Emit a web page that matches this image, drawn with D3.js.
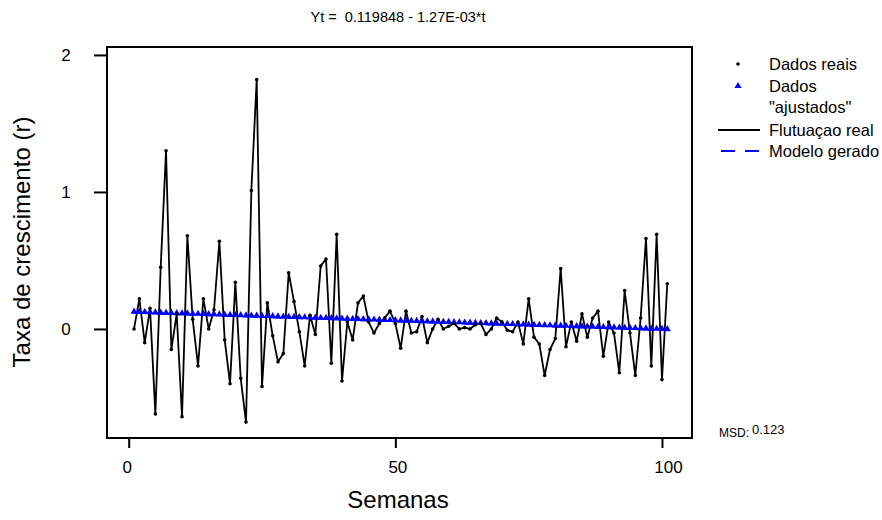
<!DOCTYPE html>
<html lang="pt">
<head>
    <meta charset="UTF-8">
    <title>Tendencia - taxa de crescimento</title>
    <script src="https://d3js.org/d3.v7.min.js"></script>
    <style>
        body{
            margin: 0;
            background-color: white;
        }
        #canvas{
            width: 882px;
            height: 520px;
            display: block;
        }
        text{
            font-family: "Liberation Sans", Arial, sans-serif;
            fill: black;
        }
    </style>
</head>
<body>
    <svg id='canvas' viewBox='0 0 882 520'></svg>
    <script>
        // taxa de crescimento, semana 1 a 101
        let dadosReais = [
            0.00, 0.22, -0.10, 0.15, -0.62, 0.45, 1.30, -0.15, 0.11, -0.64,
            0.68, 0.07, -0.27, 0.22, 0.00, 0.14, 0.64, -0.08, -0.40, 0.34,
            -0.36, -0.68, 1.01, 1.82, -0.42, 0.19, -0.05, -0.24, -0.18, 0.41,
            0.20, -0.02, -0.27, 0.10, -0.04, 0.46, 0.51, -0.25, 0.69, -0.38,
            0.05, -0.08, 0.19, 0.24, 0.05, -0.03, 0.04, 0.08, 0.13, 0.04,
            -0.14, 0.13, -0.03, -0.02, 0.09, -0.10, 0.00, 0.07, 0.00, 0.02,
            0.04, 0.00, 0.01, 0.00, 0.03, 0.04, -0.04, 0.00, 0.08, 0.05,
            -0.01, -0.02, 0.05, -0.11, 0.22, -0.06, -0.11, -0.34, -0.15, -0.07,
            0.44, -0.13, 0.05, -0.09, 0.11, -0.06, 0.08, 0.13, -0.20, 0.05,
            -0.03, -0.32, 0.28, -0.03, -0.34, 0.08, 0.66, -0.27, 0.69, -0.37,
            0.33
        ];
        // valores "ajustados" do modelo (Yt = 0.119848 - 1.27E-03*t)
        let dadosAjustados = [
            0.1186, 0.1173, 0.1160, 0.1148, 0.1135, 0.1122, 0.1110, 0.1097, 0.1084, 0.1071,
            0.1059, 0.1046, 0.1033, 0.1021, 0.1008, 0.0995, 0.0983, 0.0970, 0.0957, 0.0944,
            0.0932, 0.0919, 0.0906, 0.0894, 0.0881, 0.0868, 0.0856, 0.0843, 0.0830, 0.0817,
            0.0805, 0.0792, 0.0779, 0.0767, 0.0754, 0.0741, 0.0729, 0.0716, 0.0703, 0.0690,
            0.0678, 0.0665, 0.0652, 0.0640, 0.0627, 0.0614, 0.0602, 0.0589, 0.0576, 0.0563,
            0.0551, 0.0538, 0.0525, 0.0513, 0.0500, 0.0487, 0.0475, 0.0462, 0.0449, 0.0436,
            0.0424, 0.0411, 0.0398, 0.0386, 0.0373, 0.0360, 0.0348, 0.0335, 0.0322, 0.0309,
            0.0297, 0.0284, 0.0271, 0.0259, 0.0246, 0.0233, 0.0221, 0.0208, 0.0195, 0.0182,
            0.0170, 0.0157, 0.0144, 0.0132, 0.0119, 0.0106, 0.0094, 0.0081, 0.0068, 0.0055,
            0.0043, 0.0030, 0.0017, 0.0005, -0.0008, -0.0021, -0.0033, -0.0046, -0.0059, -0.0072,
            -0.0084
        ];
        let xTicks = [0, 50, 100];
        let yTicks = [0, 1, 2];
        let titulo = 'Yt =  0.119848 - 1.27E-03*t';
        let msd = '0.123';
        let legenda = ['Dados reais', 'Dados', '"ajustados"', 'Flutuaçao real', 'Modelo gerado'];
    </script>
    <script>
        let svg = d3.select('svg');

        // area do grafico
        let pLeft = 107, pRight = 692, pTop = 47, pBottom = 438;

        let x = d3.scaleLinear()
            .domain([-4.07, 105.63])
            .range([pLeft, pRight]);
        let y = d3.scaleLinear()
            .domain([-0.796, 2.058])
            .range([pBottom, pTop]);

        let semanas = dadosReais.map(function(d, i){ return i + 1 });

        // titulo
        svg.append('text')
            .attr('x', 398)
            .attr('y', 22)
            .attr('text-anchor', 'middle')
            .style('font-size', '14.5px')
            .style('white-space', 'pre')
            .text(titulo);

        // eixos
        let xAxis = svg.append('g')
            .attr('transform', 'translate(0,' + pBottom + ')')
            .call(d3.axisBottom(x).tickValues(xTicks).tickSize(10).tickPadding(13).tickFormat(d3.format('d')));
        let yAxis = svg.append('g')
            .attr('transform', 'translate(' + pLeft + ',0)')
            .call(d3.axisLeft(y).tickValues(yTicks).tickSize(13).tickPadding(28).tickFormat(d3.format('d')));

        [xAxis, yAxis].forEach(function(a){
            a.select('.domain').remove();
            a.selectAll('line').attr('stroke', 'black').attr('stroke-width', 2);
            a.selectAll('text')
                .style('font-size', '17px')
                .style('font-family', '"Liberation Sans", Arial, sans-serif');
        });
        yAxis.selectAll('text').attr('text-anchor', 'middle').attr('dx', '0');
        // rotulos do eixo x ficam um pouco a direita no original
        xAxis.selectAll('text').attr('dx', function(d, i){ return -2 + i * 4 });

        // moldura
        svg.append('rect')
            .attr('x', pLeft)
            .attr('y', pTop)
            .attr('width', pRight - pLeft)
            .attr('height', pBottom - pTop)
            .attr('fill', 'none')
            .attr('stroke', 'black')
            .attr('stroke-width', 2);

        // titulos dos eixos
        svg.append('text')
            .attr('x', 398)
            .attr('y', 508)
            .attr('text-anchor', 'middle')
            .style('font-size', '24px')
            .text('Semanas');
        svg.append('text')
            .attr('transform', 'translate(30,242) rotate(-90)')
            .attr('text-anchor', 'middle')
            .style('font-size', '24px')
            .text('Taxa de crescimento (r)');

        let plot = svg.append('g');

        // modelo gerado (tracejado azul) + triangulos
        let linha = d3.line()
            .x(function(d, i){ return x(semanas[i]) })
            .y(function(d){ return y(d) });
        plot.append('path')
            .datum(dadosAjustados)
            .attr('d', linha)
            .attr('fill', 'none')
            .attr('stroke', '#0000ff')
            .attr('stroke-width', 2)
            .attr('stroke-dasharray', '14,8');

        // flutuacao real
        plot.append('path')
            .datum(dadosReais)
            .attr('d', linha)
            .attr('fill', 'none')
            .attr('stroke', 'black')
            .attr('stroke-width', 1.8)
            .attr('stroke-linejoin', 'round');

        let tri = d3.symbol().type(d3.symbolTriangle).size(22);
        plot.selectAll('path.ajust')
            .data(dadosAjustados)
            .enter()
            .append('path')
            .attr('class', 'ajust')
            .attr('d', tri)
            .attr('transform', function(d, i){ return 'translate(' + x(semanas[i]) + ',' + (y(d) - 1) + ')' })
            .attr('fill', '#0000ff');

        plot.selectAll('circle.real')
            .data(dadosReais)
            .enter()
            .append('circle')
            .attr('class', 'real')
            .attr('cx', function(d, i){ return x(semanas[i]) })
            .attr('cy', function(d){ return y(d) })
            .attr('r', 1.8)
            .attr('fill', 'black');

        // legenda
        let leg = svg.append('g');
        let legX = 769;
        let legY = [64, 86, 107, 130, 151];
        legenda.forEach(function(t, i){
            leg.append('text')
                .attr('x', legX)
                .attr('y', legY[i] + 5.5)
                .style('font-size', '16.5px')
                .text(t);
        });
        leg.append('circle')
            .attr('cx', 738).attr('cy', legY[0]).attr('r', 1.8).attr('fill', 'black');
        leg.append('path')
            .attr('d', d3.symbol().type(d3.symbolTriangle).size(22))
            .attr('transform', 'translate(738,' + legY[1] + ')')
            .attr('fill', '#0000ff');
        leg.append('line')
            .attr('x1', 718).attr('x2', 760)
            .attr('y1', legY[3]).attr('y2', legY[3])
            .attr('stroke', 'black').attr('stroke-width', 2);
        leg.append('line')
            .attr('x1', 721).attr('x2', 760)
            .attr('y1', legY[4]).attr('y2', legY[4])
            .attr('stroke', '#0000ff').attr('stroke-width', 2)
            .attr('stroke-dasharray', '14,10');

        // MSD
        svg.append('text')
            .attr('x', 719).attr('y', 437)
            .style('font-size', '12px')
            .text('MSD:');
        svg.append('text')
            .attr('x', 752).attr('y', 434)
            .style('font-size', '13px')
            .text(msd);
    </script>
</body>
</html>
